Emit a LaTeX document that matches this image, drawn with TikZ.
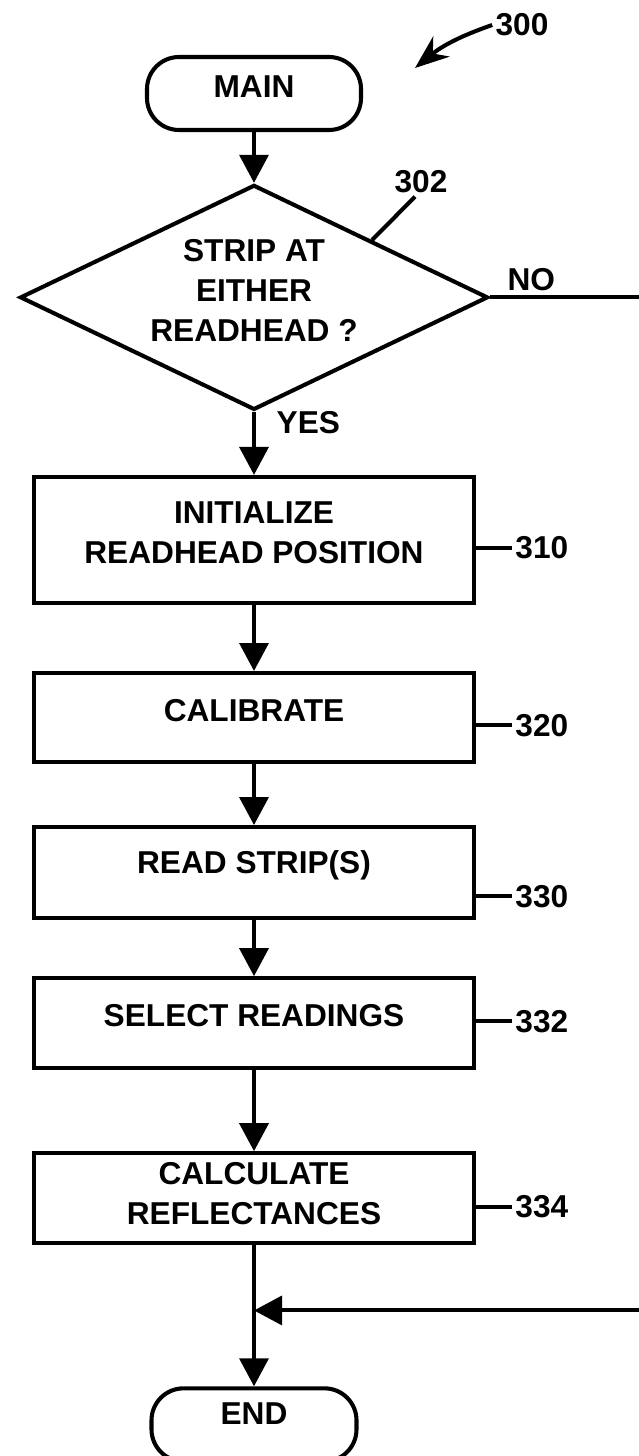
\documentclass[tikz,border=0pt]{standalone}
\usepackage{fontspec}
\setmainfont{Liberation Sans}
\usetikzlibrary{arrows.meta,positioning,calc,shapes.geometric}

\begin{document}
\begin{tikzpicture}[
    >={Triangle[length=0.7cm,width=0.72cm]},
    line width=2.9pt,
    txt/.style={
        font=\fontsize{22.5}{28.45}\selectfont\bfseries,
        align=center
    },
    box/.style={
        draw,
        txt,
        minimum width=11cm,
        inner sep=0pt,
        text depth=0.375cm
    },
    term/.style={
        draw,
        txt,
        rounded corners=0.8cm,
        minimum width=5.35cm,
        minimum height=1.825cm,
        text depth=0.325cm
    },
    decision/.style={
        draw,
        txt,
        diamond,
        aspect=2.08,
        minimum width=11.7cm,
        minimum height=5.625cm,
        inner sep=0pt,
        text depth=0.325cm
    },
    num/.style={txt, inner sep=1pt}
]

\useasboundingbox (0,0) rectangle (15.95,-36.4);

\node[term] (main) at (6.35,-2.3375)
{MAIN};

\node[decision,below=1.27cm of main] (dec)
{STRIP AT\\EITHER\\READHEAD ?};

\node[box,minimum height=3.15cm,below=1.575cm of dec] (init)
{INITIALIZE\\READHEAD POSITION};

\node[box,minimum height=2.225cm,below=1.65cm of init] (calib)
{CALIBRATE};

\node[box,minimum height=2.275cm,text depth=0.54cm,below=1.525cm of calib] (read)
{READ STRIP(S)};

\node[box,minimum height=2.25cm,text depth=0.4cm,below=1.4cm of read] (sel)
{SELECT READINGS};

\node[box,minimum height=2.25cm,text depth=0.25cm,below=2.025cm of sel] (calc)
{CALCULATE\\REFLECTANCES};

\node[term,minimum width=5.125cm,text depth=0.575cm,below=3.525cm of calc] (stop)
{END};

% reference numerals
\node[num] (l300) at (13.05,-0.625) {300};
\coordinate (p300) at (10.375,-1.7);
\node[num] (l302) at (10.525,-4.55) {302};
\node[num,right=0.9cm of init.east,yshift=-0.2cm] (l310) {310};
\node[num,right=0.9cm of calib.east,yshift=-0.19cm] (l320) {320};
\node[num,right=0.9cm of read.east,yshift=-0.59cm] (l330) {330};
\node[num,right=0.9cm of sel.east,yshift=0.05cm] (l332) {332};
\node[num,right=0.9cm of calc.east,yshift=-0.22cm] (l334) {334};

\draw[-{Stealth[length=0.85cm,width=0.65cm]}] (l300.west) to[bend right=10] (p300);
\draw ([xshift=-0.15cm]l302.south) -- ($(dec.north)!0.5!(dec.east)$);
\foreach \b/\l in {init/l310,calib/l320,read/l330,sel/l332,calc/l334}
    \draw (\b.east |- \l.west) -- (\l.west);

% flow
\draw[->] (main) -- (dec);
\draw[->] (dec) -- node[txt,right=0.4cm,pos=0.17] {YES} (init);
\draw[->] (init) -- (calib);
\draw[->] (calib) -- (read);
\draw[->] (read) -- (sel);
\draw[->] (sel) -- (calc);
\draw[->] (calc) -- (stop);

\coordinate (join) at ($(calc.south)!0.462!(stop.north)$);
\coordinate[right=4.3cm of dec.east] (noturn);
\draw[->] (dec.east) -- node[txt,above,pos=0.24] {NO} (noturn) |- (join);

\end{tikzpicture}
\end{document}
